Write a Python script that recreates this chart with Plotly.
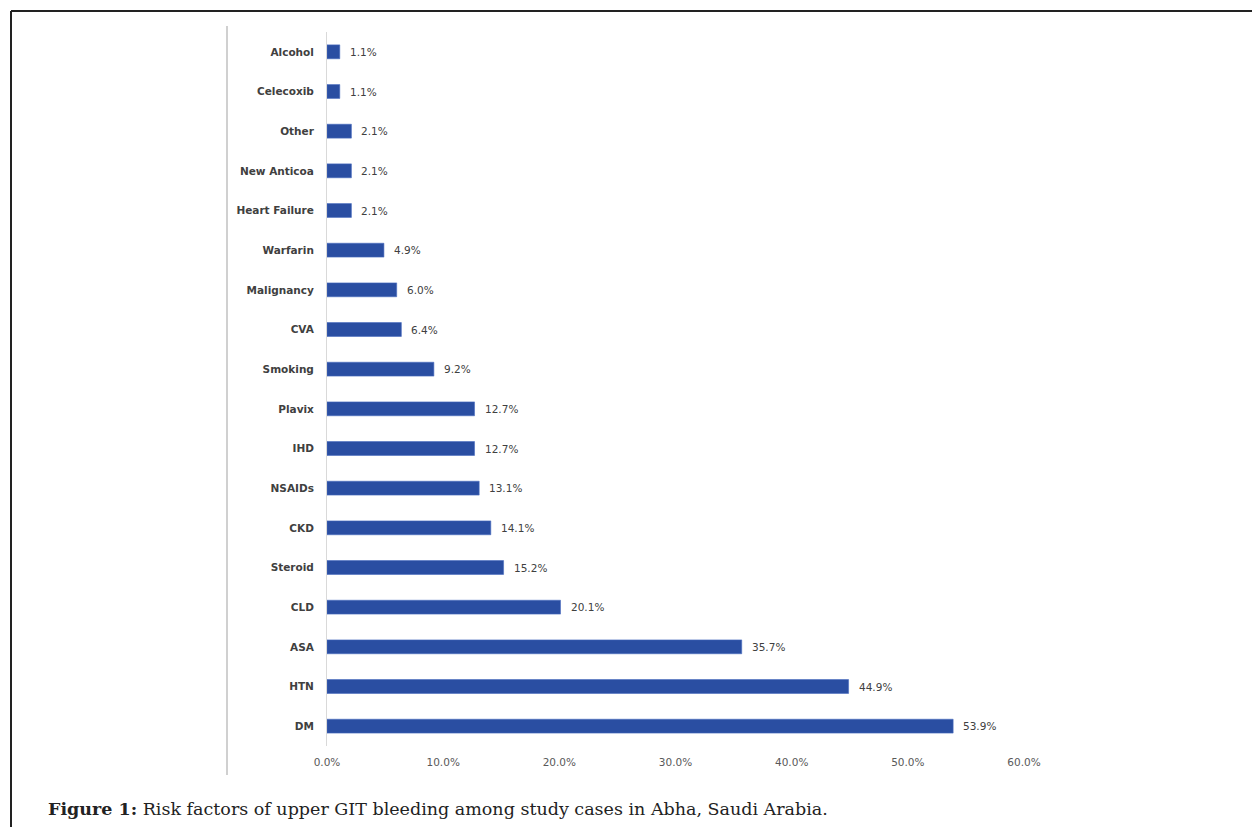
import plotly.graph_objects as go

categories = ["DM", "HTN", "ASA", "CLD", "Steroid", "CKD", "NSAIDs", "IHD", "Plavix",
              "Smoking", "CVA", "Malignancy", "Warfarin", "Heart Failure", "New Anticoa",
              "Other", "Celecoxib", "Alcohol"]
values = [53.9, 44.9, 35.7, 20.1, 15.2, 14.1, 13.1, 12.7, 12.7,
          9.2, 6.4, 6.0, 4.9, 2.1, 2.1, 2.1, 1.1, 1.1]
tick_vals = [0, 10, 20, 30, 40, 50, 60]
tick_text = ["0.0%", "10.0%", "20.0%", "30.0%", "40.0%", "50.0%", "60.0%"]
caption_bold = "Figure 1:"
caption_text = " Risk factors of upper GIT bleeding among study cases in Abha, Saudi Arabia."

W, H = 1252, 827
L, R, T, B = 327, 1024, 32, 746

def px(x):
    return (x - L) / (R - L)

def py(y):
    return (B - y) / (B - T)

fig = go.Figure(go.Bar(
    y=categories, x=values, orientation="h",
    marker=dict(color="#2a4ea2", line=dict(color="#4a6cc0", width=0.6)),
    width=0.35, hoverinfo="x+y",
))

annotations = [
    dict(x=v, y=c, xref="x", yref="y", text=f"{v:.1f}%", showarrow=False,
         xanchor="left", yanchor="middle", xshift=8,
         font=dict(family="DejaVu Sans", size=10.5, color="#404040"))
    for c, v in zip(categories, values)
]
annotations.append(
    dict(xref="paper", yref="paper", x=px(46), y=py(809), xanchor="left", yanchor="middle",
         showarrow=False,
         text=f"<b>{caption_bold}</b>{caption_text}",
         font=dict(family="DejaVu Serif", size=17.5, color="#222222"))
)

fig.update_layout(
    width=W, height=H, paper_bgcolor="white", plot_bgcolor="white",
    margin=dict(l=L, r=W - R, t=T, b=H - B),
    showlegend=False,
    xaxis=dict(range=[0, 60], tickvals=tick_vals, ticktext=tick_text, showgrid=False,
               zeroline=False, showline=False, ticks="", ticklabelstandoff=8,
               tickfont=dict(family="DejaVu Sans", size=10.5, color="#595959")),
    yaxis=dict(categoryorder="array", categoryarray=categories, range=[-0.5, 17.5],
               showgrid=False, zeroline=False, showline=True, linecolor="#d9d9d9", linewidth=1,
               ticks="", ticklabelstandoff=10,
               tickfont=dict(family="Verdana, DejaVu Sans", size=10.5, color="#404040", weight="bold")),
    shapes=[
        dict(type="line", xref="paper", yref="paper", x0=px(11), x1=px(1260), y0=py(11), y1=py(11),
             line=dict(color="#222222", width=2)),
        dict(type="line", xref="paper", yref="paper", x0=px(11), x1=px(11), y0=py(11), y1=py(830),
             line=dict(color="#222222", width=2)),
        dict(type="line", xref="paper", yref="paper", x0=px(227), x1=px(227), y0=py(26), y1=py(775),
             line=dict(color="#d0d0d0", width=2)),
    ],
    annotations=annotations,
)

fig.write_html("out.html")
